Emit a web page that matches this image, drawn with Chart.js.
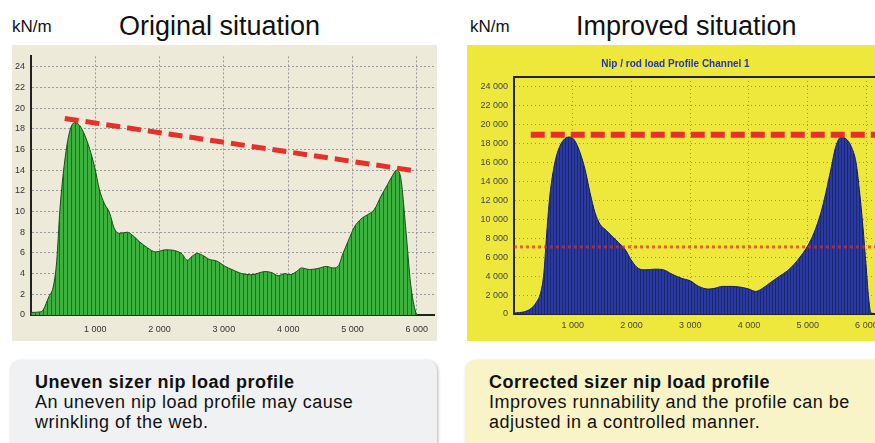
<!DOCTYPE html>
<html>
<head>
<meta charset="utf-8">
<script src="https://cdn.jsdelivr.net/npm/chart.js@4.4.1/dist/chart.umd.min.js"></script>
<style>
    body { margin: 0; width: 875px; height: 443px; overflow: hidden; background: #fff; position: relative; font-family: "Liberation Sans", Arial, sans-serif; }
    .abs { position: absolute; }
    .unit { font-size: 17px; color: #111; top: 17px; }
    .title { font-size: 27px; color: #111; top: 10px; line-height: 32px; }
    #leftChart { left: 12px; top: 45px; background: #EDEAD9; }
    #rightChart { left: 467px; top: 45px; background: #EEE83C; }
    .box { top: 360px; height: 100px; border-radius: 10px; box-sizing: border-box; padding: 12px 0 0 25px; font-size: 18px; line-height: 20px; letter-spacing: 0.5px; color: #111; box-shadow: 1px 1px 3px rgba(0,0,0,0.3); }
    #boxLeft { left: 10px; width: 427px; background: #EFF1F3; }
    #boxRight { left: 465px; width: 430px; padding-left: 24px; background: #F8F4C8; }
</style>
</head>
<body>
<div class="abs unit" style="left:12px">kN/m</div>
<div class="abs title" style="left:119px">Original situation</div>
<div class="abs unit" style="left:470px">kN/m</div>
<div class="abs title" style="left:576px">Improved situation</div>

<canvas id="leftChart" class="abs" width="425" height="296"></canvas>
<canvas id="rightChart" class="abs" width="430" height="296"></canvas>

<div id="boxLeft" class="abs box"><b>Uneven sizer nip load profile</b><br>An uneven nip load profile may cause<br>wrinkling of the web.</div>
<div id="boxRight" class="abs box"><b>Corrected sizer nip load profile</b><br>Improves runnability and the profile can be<br>adjusted in a controlled manner.</div>

<script>
// original situation, kN/m across the web (mm)
var origX = [0, 140, 190, 280, 345, 400, 450, 525, 600, 680, 760, 835, 910, 990, 1065, 1140, 1220, 1300, 1375, 1500,
    1580, 1685, 1810, 1940, 2095, 2250, 2350, 2430, 2510, 2585, 2690, 2765, 2895, 3020, 3125, 3280, 3435, 3640, 3745, 3845,
    3950, 4025, 4130, 4205, 4335, 4465, 4595, 4695, 4775, 4850, 4930, 5030, 5135, 5235, 5340, 5445, 5545, 5625, 5685, 5750,
    5830, 5905, 5985, 6010];
var origY = [0.25, 0.3, 0.5, 1.8, 2.7, 5.2, 10.2, 14.9, 17.7, 18.6, 18.3, 17.4, 16.1, 14.3, 12.1, 10.8, 9.9, 8.3, 7.9, 8.0,
    7.7, 7.1, 6.5, 6.1, 6.3, 6.2, 5.9, 5.3, 5.7, 5.95, 5.7, 5.4, 5.2, 4.7, 4.4, 4.0, 3.9, 4.2, 4.1, 3.8,
    4.0, 3.9, 4.2, 4.55, 4.4, 4.5, 4.7, 4.55, 4.7, 5.9, 7.1, 8.5, 9.3, 9.7, 10.2, 11.5, 12.6, 13.5, 14.0, 13.3,
    8.3, 3.0, 0.25, 0];
var origTrendX = [525, 5960];
var origTrendY = [19.0, 13.95];
var origXTicks = [0, 1000, 2000, 3000, 4000, 5000, 6000];
var origYTicks = [0, 2, 4, 6, 8, 10, 12, 14, 16, 18, 20, 22, 24];

// improved situation, nip / rod load channel 1
var imprX = [0, 180, 295, 380, 455, 510, 550, 610, 695, 780, 865, 940, 1010, 1095, 1210, 1295, 1380, 1465, 1550, 1665,
    1780, 1890, 2005, 2120, 2235, 2405, 2545, 2690, 2860, 3000, 3145, 3315, 3430, 3545, 3715, 3885, 4000, 4115, 4230, 4370,
    4515, 4655, 4770, 4885, 5000, 5110, 5225, 5310, 5395, 5480, 5565, 5650, 5740, 5825, 5880, 5940, 5995, 6040, 6080, 6300];
var imprY = [105, 245, 600, 1230, 2280, 4380, 7880, 12430, 15940, 17690, 18490, 18670, 18490, 17510, 15240, 12780, 10680, 9460, 8930, 8230,
    7530, 6830, 5600, 4800, 4660, 4730, 4660, 4200, 3750, 3500, 2910, 2630, 2730, 2910, 2910, 2800, 2630, 2380, 2700, 3330,
    3960, 4550, 5250, 6130, 7180, 8580, 10680, 12780, 15240, 17690, 18630, 18490, 17690, 15940, 13130, 9280, 5080, 1580, 100, 0];
var imprMaxX = [285, 6300];
var imprMaxY = [18900, 18900];
var imprLowX = [0, 6300];
var imprLowY = [7075, 7075];
var imprXTicks = [0, 1000, 2000, 3000, 4000, 5000, 6000];
var imprYTicks = [0, 2000, 4000, 6000, 8000, 10000, 12000, 14000, 16000, 18000, 20000, 22000, 24000];

function toPoints(xs, ys) {
    return xs.map(function (x, i) { return { x: x, y: ys[i] }; });
}

function useTicks(list) {
    return function (s) { s.ticks = list.map(function (v) { return { value: v }; }); };
}

function thousands(v) {
    return String(v).replace(/\B(?=(\d{3})+(?!\d))/g, ' ');
}

function stripes(fill, line, w) {
    var c = document.createElement('canvas');
    c.width = w; c.height = 4;
    var g = c.getContext('2d');
    g.fillStyle = fill; g.fillRect(0, 0, w, 4);
    g.fillStyle = line; g.fillRect(w - 1, 0, 1, 4);
    return g.createPattern(c, 'repeat');
}

var tickFont = { family: 'Liberation Sans', size: 9 };

var origChart = new Chart(document.getElementById('leftChart'), {
    type: 'line',
    data: {
        datasets: [{
            data: toPoints(origTrendX, origTrendY),
            borderColor: '#E8302A',
            borderWidth: 5,
            borderDash: [14, 7],
            pointRadius: 0,
            order: 0
        }, {
            data: toPoints(origX, origY),
            borderColor: '#1E4A1E',
            borderWidth: 1,
            backgroundColor: stripes('#3DB13D', '#1F6E23', 4),
            fill: 'origin',
            pointRadius: 0,
            cubicInterpolationMode: 'monotone',
            order: 1
        }]
    },
    options: {
        responsive: false,
        animation: false,
        layout: { padding: { top: 4, right: 0, left: 0, bottom: 0 } },
        plugins: { legend: { display: false }, tooltip: { enabled: false } },
        scales: {
            x: {
                type: 'linear', min: 0, max: 6270,
                afterFit: function (s) { s.height = 26; },
                afterBuildTicks: useTicks(origXTicks),
                ticks: { padding: 9, color: '#333', font: tickFont, maxRotation: 0, autoSkip: false,
                    callback: function (v) { return v === 0 ? '' : thousands(v); } },
                grid: { color: '#999', drawTicks: false },
                border: { color: '#222', width: 2, dash: [2, 2] }
            },
            y: {
                min: 0, max: 25,
                afterFit: function (s) { s.width = 19; },
                afterBuildTicks: useTicks(origYTicks),
                ticks: { padding: 6, color: '#333', font: tickFont, autoSkip: false },
                grid: { color: '#999', drawTicks: false },
                border: { color: '#222', width: 2, dash: [2, 2] }
            }
        }
    }
});

var imprChart = new Chart(document.getElementById('rightChart'), {
    type: 'line',
    data: {
        datasets: [{
            data: toPoints(imprMaxX, imprMaxY),
            borderColor: '#E8302A',
            borderWidth: 6,
            borderDash: [14, 6],
            pointRadius: 0,
            order: 0
        }, {
            data: toPoints(imprLowX, imprLowY),
            borderColor: 'rgba(232, 40, 30, 0.7)',
            borderWidth: 3,
            borderDash: [3, 3],
            pointRadius: 0,
            order: 0
        }, {
            data: toPoints(imprX, imprY),
            borderColor: '#121C55',
            borderWidth: 1,
            backgroundColor: stripes('#2A3A9E', '#1B2778', 3),
            fill: 'origin',
            pointRadius: 0,
            cubicInterpolationMode: 'monotone',
            order: 1
        }]
    },
    options: {
        responsive: false,
        animation: false,
        layout: { padding: { top: 0, right: 13, left: 0, bottom: 0 } },
        plugins: {
            legend: { display: false },
            tooltip: { enabled: false },
            title: {
                display: true,
                text: 'Nip / rod load Profile Channel 1',
                color: '#2536A8',
                font: { family: 'Liberation Sans', size: 10, weight: 'bold' },
                padding: { top: 13, bottom: 7 }
            }
        },
        scales: {
            x: {
                type: 'linear', min: 0, max: 6300,
                afterFit: function (s) { s.height = 27; },
                afterBuildTicks: useTicks(imprXTicks),
                ticks: { padding: 6, color: '#444', font: tickFont, maxRotation: 0, autoSkip: false,
                    callback: function (v) { return v === 0 ? '' : thousands(v); } },
                grid: { color: 'rgba(90, 90, 40, 0.55)', drawTicks: false },
                border: { color: '#222', width: 2, dash: [1, 3] }
            },
            xTop: {
                type: 'linear', position: 'top', min: 0, max: 6300,
                afterFit: function (s) { s.height = 0; },
                ticks: { display: false },
                grid: { display: false, drawTicks: false },
                border: { color: '#222', width: 2 }
            },
            y: {
                min: 0, max: 25000,
                afterFit: function (s) { s.width = 47; },
                afterBuildTicks: useTicks(imprYTicks),
                ticks: { padding: 6, color: '#444', font: tickFont, autoSkip: false,
                    callback: function (v) { return thousands(v); } },
                grid: { color: 'rgba(90, 90, 40, 0.55)', drawTicks: false },
                border: { color: '#222', width: 2, dash: [1, 3] }
            }
        }
    }
});
</script>
</body>
</html>
